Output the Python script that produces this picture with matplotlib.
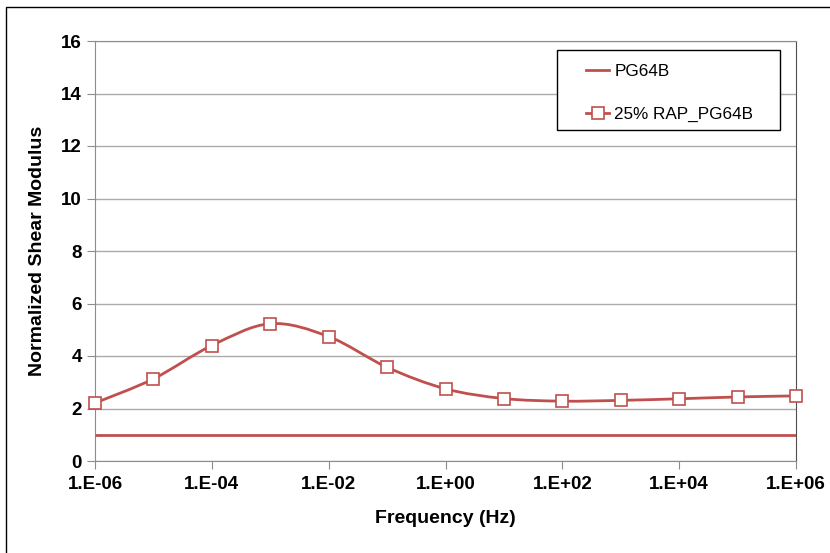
import numpy as np
import matplotlib
matplotlib.use('Agg')
import matplotlib.pyplot as plt
from matplotlib.path import Path
from matplotlib.patches import PathPatch, Rectangle
from matplotlib.lines import Line2D
from matplotlib.ticker import FixedLocator, FuncFormatter, NullLocator

plt.rcParams['font.family'] = ['Liberation Sans', 'DejaVu Sans']

# data
freq = [1e-6, 1e-5, 1e-4, 1e-3, 1e-2, 1e-1, 1e0, 1e1, 1e2, 1e3, 1e4, 1e5, 1e6]
pg64b = [1.0] * len(freq)
rap25 = [2.21, 3.13, 4.40, 5.23, 4.74, 3.57, 2.75, 2.38, 2.28, 2.31, 2.37, 2.44, 2.48]
xticks = [1e-6, 1e-4, 1e-2, 1e0, 1e2, 1e4, 1e6]
yticks = [0, 2, 4, 6, 8, 10, 12, 14, 16]

red = '#C0504D'

fig = plt.figure(figsize=(8.3, 5.53), dpi=100)
ax = fig.add_axes([95/830, 1 - 461/553, 701/830, 420/553])

# outer chart border (right and bottom edges fall outside the image)
fig.patches.append(Rectangle((6/830, -0.05), 1.1, 1 - 7/553 + 0.05, transform=fig.transFigure,
                             fill=False, edgecolor='#000000', linewidth=1.0))

ax.set_xscale('log')
ax.set_xlim(1e-6, 1e6)
ax.set_ylim(0, 16)

ax.plot(freq, pg64b, color=red, linewidth=2.0, solid_capstyle='butt', zorder=3)

# smoothed line like the spreadsheet one (bezier through the points in log space)
lx = np.log10(freq)
yy = np.array(rap25)
verts = [(lx[0], yy[0])]
codes = [Path.MOVETO]
n = len(lx)
for i in range(n - 1):
    i0 = max(i - 1, 0)
    i3 = min(i + 2, n - 1)
    c1 = (lx[i] + (lx[i + 1] - lx[i0]) / 6, yy[i] + (yy[i + 1] - yy[i0]) / 6)
    c2 = (lx[i + 1] - (lx[i3] - lx[i]) / 6, yy[i + 1] - (yy[i3] - yy[i]) / 6)
    verts += [c1, c2, (lx[i + 1], yy[i + 1])]
    codes += [Path.CURVE4] * 3
verts = [(10 ** vx, vy) for vx, vy in verts]
ax.add_patch(PathPatch(Path(verts, codes), fill=False, edgecolor=red, linewidth=2.0, zorder=3))
ax.plot(freq, rap25, linestyle='none', marker='s', markersize=8, markerfacecolor='white',
        markeredgecolor=red, markeredgewidth=1.2, zorder=4, clip_on=False)

ax.xaxis.set_major_locator(FixedLocator(xticks))
ax.xaxis.set_minor_locator(NullLocator())
ax.xaxis.set_major_formatter(FuncFormatter(lambda v, p: '1.E%+03d' % int(round(np.log10(v)))))
ax.set_yticks(yticks)

ax.grid(axis='y', color='#ABABAB', linewidth=1.0)
ax.set_axisbelow(True)
for s in ['left', 'bottom', 'top']:
    ax.spines[s].set_color('#8C8C8C')
ax.spines['right'].set_color('#505050')
ax.tick_params(axis='both', direction='out', length=6, color='#8C8C8C', labelsize=13.5)
for lab in ax.get_xticklabels() + ax.get_yticklabels():
    lab.set_fontweight('bold')
ax.tick_params(axis='x', pad=5)

ax.set_xlabel('Frequency (Hz)', fontsize=14, fontweight='bold', labelpad=12)
ax.set_ylabel('Normalized Shear Modulus', fontsize=14, fontweight='bold', labelpad=11)

# legend frame drawn separately so the padding matches
ax.add_patch(Rectangle(((557-95)/701, (461-130)/420), (780-557)/701, 80/420,
                       transform=ax.transAxes, facecolor='white', edgecolor='#000000',
                       linewidth=1.0, zorder=5))
handles = [Line2D([], [], color=red, linewidth=2.0),
           Line2D([], [], color=red, linewidth=2.0, marker='s', markersize=8,
                  markerfacecolor='white', markeredgecolor=red, markeredgewidth=1.2)]
leg = ax.legend(handles, ['PG64B', '25% RAP_PG64B'], loc='upper left',
                bbox_to_anchor=((586-95)/701, (461-64)/420), fontsize=12.3, frameon=False,
                borderpad=0, labelspacing=1.65, handlelength=1.35,
                handletextpad=0.3, borderaxespad=0)
leg.set_zorder(6)

fig.savefig('out.png', dpi=100)
